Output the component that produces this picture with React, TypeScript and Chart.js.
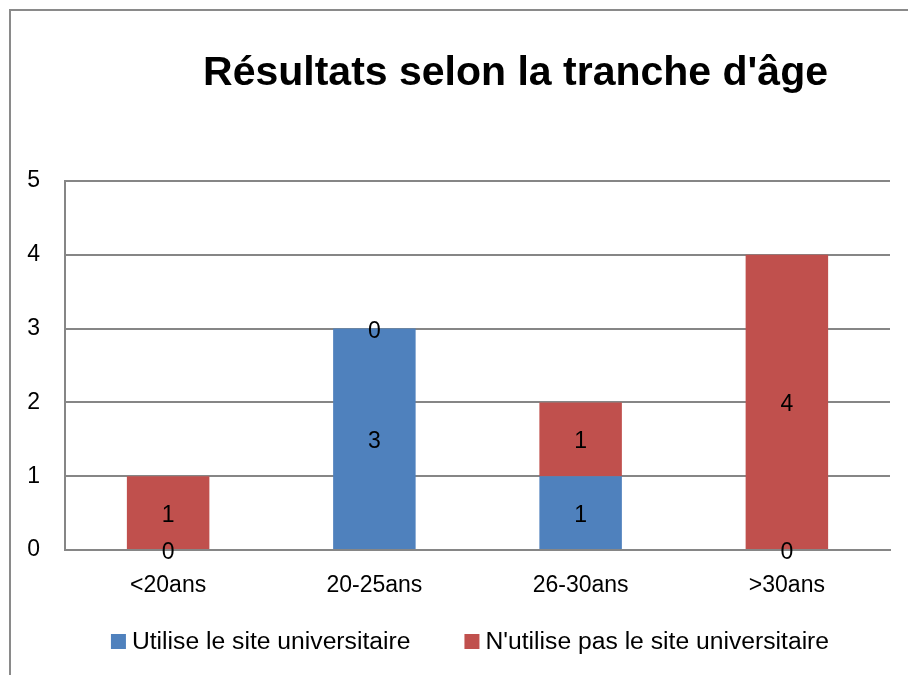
import React, { useEffect, useRef } from "react";
import { Chart, registerables } from "chart.js";

Chart.register(...registerables);

const titleText = "Résultats selon la tranche d'âge";
const categories = ["<20ans", "20-25ans", "26-30ans", ">30ans"];
const seriesNames = ["Utilise le site universitaire", "N'utilise pas le site universitaire"];
const utiliseValues = [0, 3, 1, 0];
const nUtilisePasValues = [1, 0, 1, 4];
const seriesColors = ["#4F81BD", "#C0504D"];
const yMin = 0;
const yMax = 5;
const yStep = 1;

const FONT = "'Liberation Sans', Arial, sans-serif";
const GRID = "#868686";

const overlayPlugin = {
  id: "overlay",
  afterDatasetsDraw(chart: any) {
    const ctx = chart.ctx;
    ctx.save();
    // data labels
    ctx.font = `23px ${FONT}`;
    ctx.fillStyle = "#000";
    ctx.textAlign = "center";
    ctx.textBaseline = "alphabetic";
    chart.data.datasets.forEach((ds: any, di: number) => {
      const meta = chart.getDatasetMeta(di);
      meta.data.forEach((bar: any, i: number) => {
        const v = ds.data[i];
        const cy = (bar.y + bar.base) / 2;
        ctx.fillText(String(v), bar.x, cy + 9);
      });
    });
    ctx.restore();
  },
  afterDraw(chart: any) {
    const ctx = chart.ctx;
    ctx.save();
    // title
    ctx.font = `bold 41px ${FONT}`;
    ctx.fillStyle = "#000";
    ctx.textAlign = "center";
    ctx.textBaseline = "alphabetic";
    ctx.fillText(titleText, 515.5, 85);
    // legend
    ctx.font = `24.7px ${FONT}`;
    ctx.textAlign = "left";
    const sq = 15;
    const gapSqText = 6;
    const gapItems = 54;
    const widths = seriesNames.map((n) => ctx.measureText(n).width);
    const total = widths.reduce((a, w) => a + sq + gapSqText + w, 0) + gapItems;
    let x = 470 - total / 2;
    const baseline = 649;
    seriesNames.forEach((n, i) => {
      ctx.fillStyle = seriesColors[i];
      ctx.fillRect(x, baseline - sq, sq, sq);
      x += sq + gapSqText;
      ctx.fillStyle = "#000";
      ctx.fillText(n, x, baseline);
      x += widths[i] + gapItems;
    });
    ctx.restore();
  },
};

export default function App() {
  const ref = useRef<HTMLCanvasElement | null>(null);
  useEffect(() => {
    if (!ref.current) return;
    const chart = new Chart(ref.current, {
      type: "bar",
      data: {
        labels: categories,
        datasets: [
          {
            label: seriesNames[0],
            data: utiliseValues,
            backgroundColor: seriesColors[0],
            categoryPercentage: 1,
            barPercentage: 0.4,
          },
          {
            label: seriesNames[1],
            data: nUtilisePasValues,
            backgroundColor: seriesColors[1],
            categoryPercentage: 1,
            barPercentage: 0.4,
          },
        ],
      },
      options: {
        animation: false,
        responsive: false,
        layout: { padding: { left: 0, right: 18, top: 181, bottom: 0 } },
        plugins: {
          legend: { display: false },
          title: { display: false },
          tooltip: { enabled: false },
        },
        scales: {
          x: {
            stacked: true,
            grid: { display: false, drawTicks: false },
            border: { display: true, color: GRID, width: 2 },
            ticks: {
              color: "#000",
              font: { family: FONT, size: 23 },
              padding: 22,
              maxRotation: 0,
            },
            afterFit(scale: any) {
              scale.height = 125;
            },
          },
          y: {
            stacked: true,
            min: yMin,
            max: yMax,
            grid: { color: GRID, lineWidth: 2, drawTicks: false },
            border: { display: true, color: GRID, width: 2 },
            ticks: {
              stepSize: yStep,
              color: "#000",
              font: { family: FONT, size: 23 },
              padding: 25,
            },
            afterFit(scale: any) {
              scale.width = 65;
            },
          },
        },
      },
      plugins: [overlayPlugin],
    });
    return () => chart.destroy();
  }, []);

  return (
    <div
      style={{
        position: "fixed",
        left: 0,
        top: 0,
        width: 908,
        height: 675,
        overflow: "hidden",
        background: "#fff",
      }}
    >
      <div
        style={{
          position: "absolute",
          left: 9,
          top: 9,
          width: 1200,
          height: 1200,
          border: "2px solid #8a8a8a",
        }}
      />
      <canvas
        ref={ref}
        width={908}
        height={675}
        style={{ position: "absolute", left: 0, top: 0, width: 908, height: 675 }}
      />
    </div>
  );
}
